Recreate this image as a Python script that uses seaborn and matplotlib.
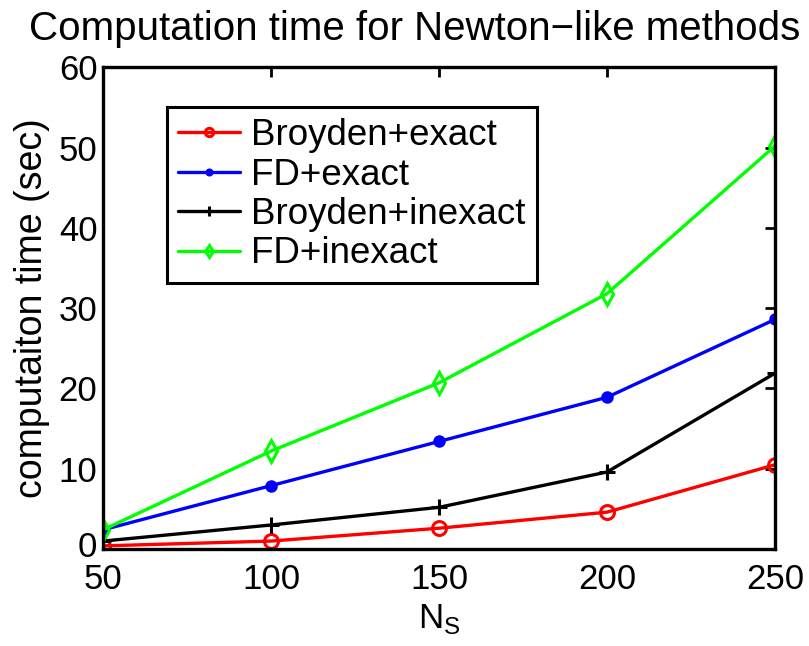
import matplotlib
matplotlib.use("Agg")
import matplotlib.pyplot as plt
import matplotlib.transforms as mtransforms
import seaborn as sns
import pandas as pd

# Problem sizes and timings (seconds)
n_s = [50, 100, 150, 200, 250]
broyden_exact = [0.4, 1.0, 2.6, 4.6, 10.5]
fd_exact = [2.4, 7.9, 13.4, 18.9, 28.6]
broyden_inexact = [1.0, 3.0, 5.2, 9.6, 21.9]
fd_inexact = [2.4, 12.2, 20.7, 31.8, 50.2]

series = [
    ("Broyden+exact", broyden_exact, "#ff0000", dict(marker="o", markersize=10, markerfacecolor="none", markeredgewidth=2.2)),
    ("FD+exact", fd_exact, "#0000ff", dict(marker="o", markersize=8, markerfacecolor="#0000ff", markeredgewidth=1)),
    ("Broyden+inexact", broyden_inexact, "#000000", dict(marker="+", markersize=12, markeredgewidth=2.2)),
    ("FD+inexact", fd_inexact, "#00ff00", dict(marker="d", markersize=11, markerfacecolor="none", markeredgewidth=2.2)),
]

sns.set_style("white")
plt.rcParams["font.family"] = ["Liberation Sans", "DejaVu Sans"]
plt.rcParams["mathtext.fontset"] = "custom"
plt.rcParams["mathtext.rm"] = "Liberation Sans"
for key in ("text.color", "axes.labelcolor", "xtick.color", "ytick.color"):
    plt.rcParams[key] = "black"

fig = plt.figure(figsize=(8.09, 6.46), dpi=100)
ax = fig.add_axes([0.1273, 0.150, 0.8307, 0.746])

for name, vals, color, style in series:
    df = pd.DataFrame({"N": n_s, "t": vals})
    sns.lineplot(data=df, x="N", y="t", ax=ax, color=color, linewidth=2.4,
                 label=name, markeredgecolor=color, **style)

ax.set_xlim(50, 250)
ax.set_ylim(0, 60)
ax.set_xticks([50, 100, 150, 200, 250])
ax.set_yticks([0, 10, 20, 30, 40, 50, 60])
ax.tick_params(axis="both", which="both", direction="in", length=7, width=2,
               labelsize=25, top=True, right=True, color="black")
ax.tick_params(axis="x", pad=10)
ax.tick_params(axis="y", pad=4)
for sp in ax.spines.values():
    sp.set_linewidth(2.4)
    sp.set_color("black")

# lift the bottom y tick label a little so it clears the first x tick label
lift = mtransforms.ScaledTranslation(0, 4 / 72, fig.dpi_scale_trans)
ylabels = ax.get_yticklabels()
ylabels[0].set_transform(ylabels[0].get_transform() + lift)

fig.text(0.512, 0.985, "Computation time for Newton\u2212like methods",
         fontsize=29, ha="center", va="top")
ax.set_xlabel(r"N$_\mathrm{S}$", fontsize=25, labelpad=4)
ax.set_ylabel("computaiton time (sec)", fontsize=27, labelpad=6)

leg = ax.legend(loc="upper left", bbox_to_anchor=(0.095, 0.917), fontsize=26.5,
                frameon=True, fancybox=False, framealpha=1, handlelength=1.7,
                handletextpad=0.3, borderpad=0.3, labelspacing=0.12,
                borderaxespad=0, markerscale=0.6)
leg.get_frame().set_edgecolor("black")
leg.get_frame().set_linewidth(2.2)

fig.savefig("out.png", dpi=100)
